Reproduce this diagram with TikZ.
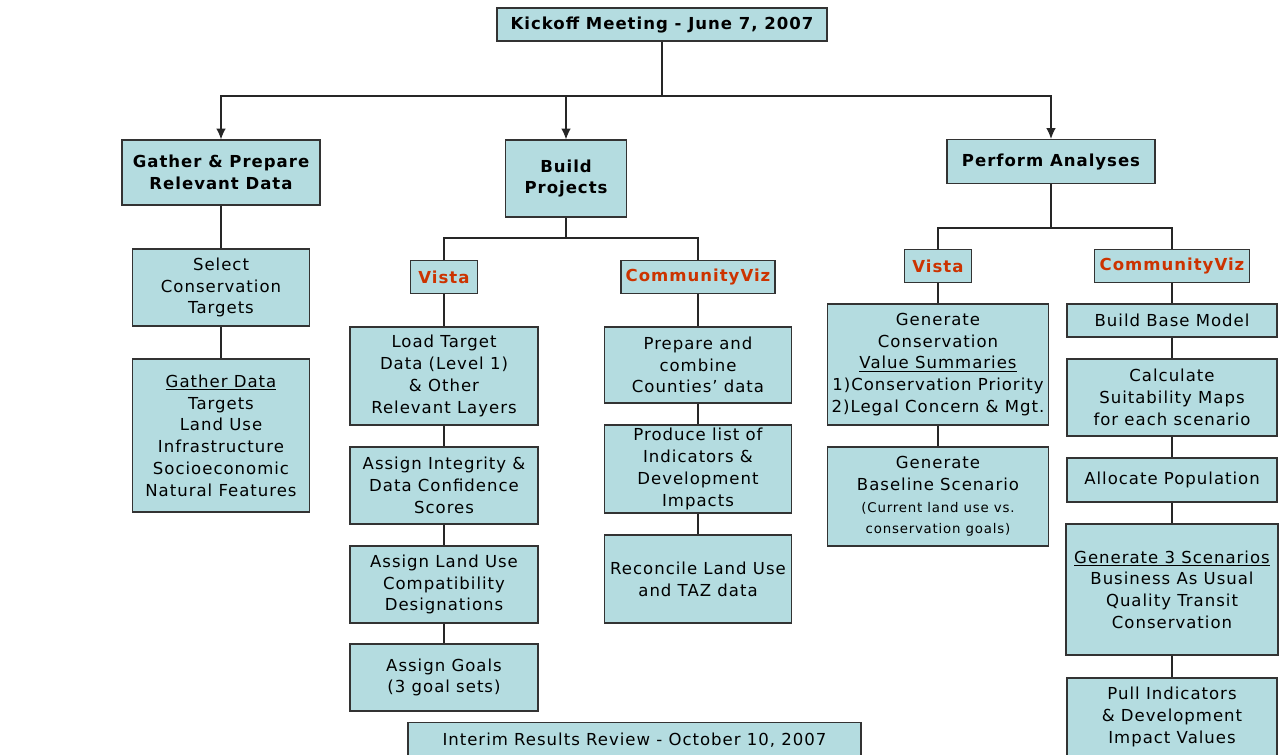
\documentclass[tikz,border=0pt]{standalone}
\usepackage{fontspec}
\setmainfont[LetterSpace=6]{DejaVu Sans}
\usetikzlibrary{arrows.meta,positioning,calc}
\definecolor{boxfill}{RGB}{180,220,224}
\definecolor{toolred}{RGB}{204,51,0}

\begin{document}
\begin{tikzpicture}
[x=.75pt,y=-.75pt,
box/.style 2 args={draw=black!80,fill=boxfill,line width=.9pt,align=center,inner sep=0pt,
  minimum width=#1*.75pt,minimum height=#2*.75pt,font=\boxfont},
head/.style 2 args={box={#1}{#2},font=\boxfont\bfseries},
tool/.style={box={#1}{33},font=\boxfont\bfseries,text=toolred},
edge/.style={black!85,line width=.8pt},
arr/.style={edge,-{Latex[length=8pt,width=7pt]}}]
%%%%%%%%%%

\def \boxfont {\fontsize{12.4}{16.3}\selectfont}
\def \smallfont {\fontsize{10}{13}\selectfont}
\def \colA {221}
\def \colB {444}
\def \colC {698}
\def \colD {938}
\def \colE {1172}

\useasboundingbox (0,0) rectangle (1284,754);

% top level
\node[head={330}{33}] (kick) at (662,24.5) {Kickoff Meeting - June 7, 2007};
\node[head={198}{65}] (gather) at (\colA,172.5) {Gather \& Prepare\\Relevant Data};
\node[head={121}{77}] (build) at (566,178.5) {Build\\Projects};
\node[head={208}{44}] (perform) at (1051,161.5) {Perform Analyses};

\coordinate (bus) at (662,96);
\foreach \n in {gather,build,perform}
    \draw[arr] (kick.south) -- (kick.south |- bus) -| (\n.north);

% gather column
\node[box={177}{77}] (select) at (\colA,287.5) {Select\\Conservation\\Targets};
\node[box={177}{153}] (data) at (\colA,435.5) {\underline{Gather Data}\\Targets\\Land Use\\Infrastructure\\Socioeconomic\\Natural Features};
\draw[edge] (gather) -- (select);
\draw[edge] (select) -- (data);

% build projects
\node[tool={67}] (vistaB) at (\colB,277) {Vista};
\node[tool={154}] (vizB) at (\colC,277) {CommunityViz};
\coordinate (busB) at (566,238);
\draw[edge] (build.south) -- (build.south |- busB);
\draw[edge] (vistaB.north) |- (busB) -| (vizB.north);

\node[box={188}{98}] (load) at (\colB,376) {Load Target\\Data (Level 1)\\\& Other\\Relevant Layers};
\node[box={188}{77}] (integ) at (\colB,485.5) {Assign Integrity \&\\Data Confidence\\Scores};
\node[box={188}{77}] (landuse) at (\colB,584.5) {Assign Land Use\\Compatibility\\Designations};
\node[box={188}{67}] (goals) at (\colB,677.5) {Assign Goals\\(3 goal sets)};
\draw[edge] (vistaB) -- (load) -- (integ) -- (landuse) -- (goals);

\node[box={187}{76}] (prep) at (\colC,365) {Prepare and\\combine\\Counties’ data};
\node[box={187}{88}] (produce) at (\colC,469) {Produce list of\\Indicators \&\\Development\\Impacts};
\node[box={187}{88}] (recon) at (\colC,579) {Reconcile Land Use\\and TAZ data};
\draw[edge] (vizB) -- (prep) -- (produce) -- (recon);

\node[box={453}{40},anchor=north] (interim) at (634.5,722) {\raisebox{5pt}{Interim Results Review - October 10, 2007}};

% perform analyses
\node[tool={67}] (vistaP) at (\colD,266) {Vista};
\node[tool={155}] (vizP) at (\colE,266) {CommunityViz};
\coordinate (busP) at (1051,228);
\draw[edge] (perform.south) -- (perform.south |- busP);
\draw[edge] (vistaP.north) |- (busP) -| (vizP.north);

\node[box={221}{121}] (gencons) at (\colD,364.5) {Generate\\Conservation\\\underline{Value Summaries}\\1)Conservation Priority\\2)Legal Concern \& Mgt.};
\node[box={221}{99}] (baseline) at (\colD,496.5) {Generate\\Baseline Scenario\\\smallfont (Current land use vs.\\\smallfont conservation goals)};
\draw[edge] (vistaP) -- (gencons) -- (baseline);

\node[box={210}{33}] (base) at (\colE,320.5) {Build Base Model};
\node[box={210}{77}] (suit) at (\colE,397.5) {Calculate\\Suitability Maps\\for each scenario};
\node[box={210}{44}] (alloc) at (\colE,480) {Allocate Population};
\node[box={212}{131}] (gen3) at (\colE,589.5) {\underline{Generate 3 Scenarios}\\Business As Usual\\Quality Transit\\Conservation};
\node[box={210}{78}] (pull) at (\colE,717) {Pull Indicators\\\& Development\\Impact Values};
\draw[edge] (vizP) -- (base) -- (suit) -- (alloc) -- (gen3) -- (pull);
\end{tikzpicture}
\end{document}
